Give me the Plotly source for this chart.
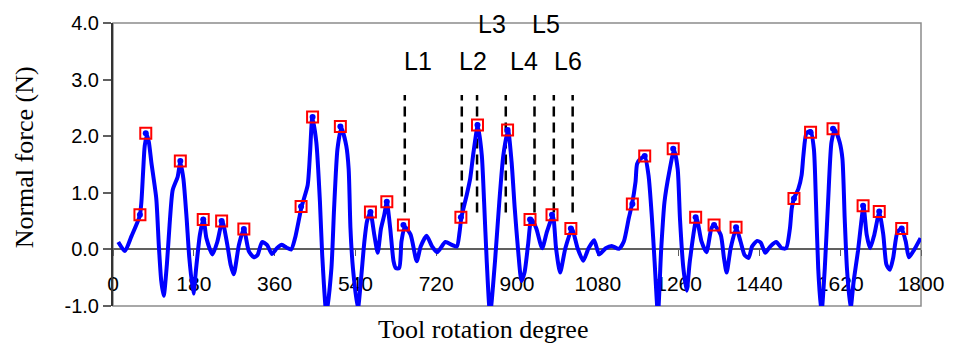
import plotly.graph_objects as go

# ---- data ----
deg = [11.7, 26.5, 41, 59.6, 63.3, 67, 70.7, 75.8, 80, 85.4, 96.4, 102, 107.5, 113, 120, 126, 133, 144, 150,
       156.8, 164, 170, 179, 186, 193.6, 201.7, 208, 221.6, 232.6, 243.6, 254.7, 262, 269, 280.5, 291.5,
       302.5, 313.6, 322, 332, 343, 354, 365, 376, 387, 397, 405.6, 420, 433.6, 439, 444, 453, 461, 466,
       475.5, 486.6, 492.5, 500, 508.7, 519.7, 525, 529, 534.5, 545.5, 552.8, 560, 566, 573.5, 582, 589.7,
       597, 604, 610, 617.6, 625, 630, 637.6, 642.6, 650, 663, 676.6, 685.4, 698.6, 711, 722, 740.5, 755,
       766, 772, 776, 788, 795.7, 803, 812.7, 821.6, 826.7, 832.6, 840, 851, 860.6, 869.5, 880, 888, 895,
       902.6, 910, 917, 924.6, 932, 943, 956, 966.6, 980, 987, 996, 1007.7, 1022.5, 1035, 1047.5, 1059.4,
       1071.8, 1083, 1097.6, 1111, 1127, 1138, 1149, 1156, 1164, 1167.5, 1175, 1184.5, 1193, 1200.6, 1206.5,
       1214, 1221, 1228.6, 1239, 1250, 1258, 1263, 1270.6, 1278, 1285, 1300, 1311, 1322, 1333, 1339, 1353.8,
       1361, 1367, 1376, 1388.4, 1398, 1407, 1416, 1423.6, 1434.8, 1443, 1453, 1464, 1477.5, 1490, 1499.5,
       1508, 1512, 1517, 1526.8, 1534, 1538, 1545, 1554, 1561.4, 1566, 1571, 1578, 1585.7, 1593, 1600.5,
       1608, 1619, 1625, 1630, 1635, 1643, 1650, 1659.6, 1667, 1672, 1679, 1686.6, 1696, 1707, 1716, 1723,
       1730.8, 1738, 1747.6, 1757, 1766, 1773, 1784.5, 1799]
force = [0.13, -0.03, 0.23, 0.59, 0.84, 1.36, 1.83, 2.02, 1.89, 1.54, 0.9, 0.08, -0.56, -0.82, -0.27, 0.43, 1.05, 1.28, 1.54,
         1.25, 0.55, -0.15, -0.78, -0.27, 0.26, 0.54, 0.2, -0.09, 0.14, 0.5, 0.08, -0.27, -0.44, 0.08, 0.36,
         -0.03, -0.14, -0.1, 0.13, 0.08, -0.08, 0.02, 0.08, 0.03, 0.0, 0.2, 0.75, 1.13, 1.71, 2.33, 1.89, 0.84, -0.09,
         -1.15, -0.33, 0.72, 1.77, 2.15, 1.83, 1.42, 0.37, -0.33, -1.05, -0.5, 0.14, 0.5, 0.65, 0.26, -0.06,
         0.37, 0.6, 0.83, 0.37, -0.21, -0.33, -0.33, 0.14, 0.40, 0.26, -0.21, 0.05, 0.24, 0.05, -0.05, 0.13, 0.08,
         0.05, 0.3, 0.56, 0.96, 1.25, 1.71, 2.19, 1.66, 0.84, -0.21, -1.15, -0.21, 0.84, 1.66, 2.11, 1.54, 0.72,
         -0.03, -0.56, -0.4, 0.08, 0.54, 0.37, 0.02, 0.31, 0.59, 0.02, -0.41, 0.02, 0.36, 0.02, -0.2, 0.02,
         0.16, -0.09, 0.02, 0.06, 0.01, 0.14, 0.55, 0.79, 1.19, 1.51, 1.6, 1.64, 1.31, 0.55, -0.21,
         -1.15, -0.03, 0.84, 1.36, 1.76, 1.42, 0.55, -0.33, -0.73, -0.21, 0.55, 0.14, -0.05, 0.37, 0.43, 0.26,
         -0.15, -0.41, 0.02, 0.37, 0.14, -0.1, -0.15, 0.05, 0.15, 0.12, -0.06, 0.05, 0.13, 0.02, 0.02,
         0.37, 0.72, 0.9, 1.07, 1.31, 1.66, 2.06, 2.09, 1.77, 0.84, -0.33, -1.15, -0.33, 0.84, 1.89,
         2.12, 1.89, 1.6, 0.55, -0.33, -1.05, -0.56, -0.03, 0.49, 0.77, 0.26, 0.02, 0.26, 0.65, 0.26, -0.27,
         -0.36, -0.15, 0.31, 0.36, 0.14, -0.14, -0.01, 0.2]

mark_deg = [60, 73, 150, 201, 242, 291.5, 419, 444.6, 506.5, 573.5, 610, 647, 775, 812, 879, 929, 978, 1020,
            1157, 1184.5, 1248, 1298, 1339, 1388, 1517, 1554, 1604, 1671, 1707, 1757]
mark_force = [0.61, 2.05, 1.56, 0.53, 0.50, 0.36, 0.76, 2.34, 2.17, 0.66, 0.84, 0.43, 0.57, 2.20, 2.11, 0.53, 0.61, 0.37,
              0.80, 1.65, 1.78, 0.57, 0.43, 0.39, 0.90, 2.07, 2.13, 0.77, 0.67, 0.37]

line_deg = [650, 777, 811, 875, 939, 982, 1024]
line_bottom = 0.65
line_top = 2.73

label_text = ["L1", "L2", "L3", "L4", "L5", "L6"]
label_deg = [680, 802, 844, 915, 965, 1013]
label_force = [3.32, 3.32, 3.98, 3.32, 3.98, 3.32]

x_ticks = [0, 180, 360, 540, 720, 900, 1080, 1260, 1440, 1620, 1800]
y_ticks = [-1.0, 0.0, 1.0, 2.0, 3.0, 4.0]
y_tick_text = ["-1.0", "0.0", "1.0", "2.0", "3.0", "4.0"]

# ---- figure ----
fig = go.Figure()

dx, dy = [], []
for d in line_deg:
    dx += [d, d, None]
    dy += [line_bottom, line_top, None]
fig.add_trace(go.Scatter(x=dx, y=dy, mode="lines",
                         line=dict(color="black", width=2.5, dash="10px,6px"),
                         hoverinfo="skip", showlegend=False))

fig.add_trace(go.Scatter(x=deg, y=force, mode="lines",
                         line=dict(color="#0000FF", width=4, shape="spline", smoothing=0.6),
                         showlegend=False))

fig.add_trace(go.Scatter(x=mark_deg, y=mark_force, mode="markers",
                         marker=dict(symbol="circle", size=6, color="#0000FF"),
                         showlegend=False))
fig.add_trace(go.Scatter(x=mark_deg, y=mark_force, mode="markers",
                         marker=dict(symbol="square-open", size=11, color="#FF0000",
                                     line=dict(width=2, color="#FF0000")),
                         showlegend=False))

for t, xv, yv in zip(label_text, label_deg, label_force):
    fig.add_annotation(x=xv, y=yv, text=t, showarrow=False,
                       font=dict(family="Liberation Sans, Arial", size=25, color="black"),
                       xanchor="center", yanchor="middle")

# frame
fig.add_shape(type="rect", xref="paper", yref="paper", x0=0, y0=0, x1=1, y1=1,
              line=dict(color="#8c8c8c", width=1.5), layer="below")

fig.add_annotation(text="Tool rotation degree", xref="paper", yref="paper",
                   x=(486 - 113) / 815, y=-(330 - 306) / 286, showarrow=False,
                   font=dict(family="Liberation Serif, Times New Roman", size=26, color="black"),
                   xanchor="center", yanchor="middle")
fig.add_annotation(text="Normal force (N)", xref="paper", yref="paper",
                   x=-(113 - 24) / 815, y=(306 - 156) / 286, showarrow=False, textangle=-90,
                   font=dict(family="Liberation Serif, Times New Roman", size=26, color="black"),
                   xanchor="center", yanchor="middle")

fig.update_layout(
    width=956, height=346,
    margin=dict(l=113, r=28, t=20, b=40),
    plot_bgcolor="white", paper_bgcolor="white",
    font=dict(family="Liberation Sans, Arial", size=20, color="black"),
    xaxis=dict(range=[0, 1800], tickvals=x_ticks, ticktext=[str(v) for v in x_ticks],
               showgrid=False, zeroline=False, showline=True, linecolor="#606060", linewidth=1.5,
               ticks="outside", ticklen=6, tickcolor="#606060", tickwidth=1,
               anchor="free", position=0.2, layer="below traces",
               ticklabelstandoff=10, tickfont=dict(size=21, color="black")),
    yaxis=dict(range=[-1, 4], tickvals=y_ticks, ticktext=y_tick_text,
               showgrid=False, zeroline=False, showline=True, linecolor="#333333", linewidth=2,
               ticks="outside", ticklen=8, tickcolor="#606060", tickwidth=1.5,
               tickfont=dict(size=20, color="black")),
)

fig.write_html("out.html")
